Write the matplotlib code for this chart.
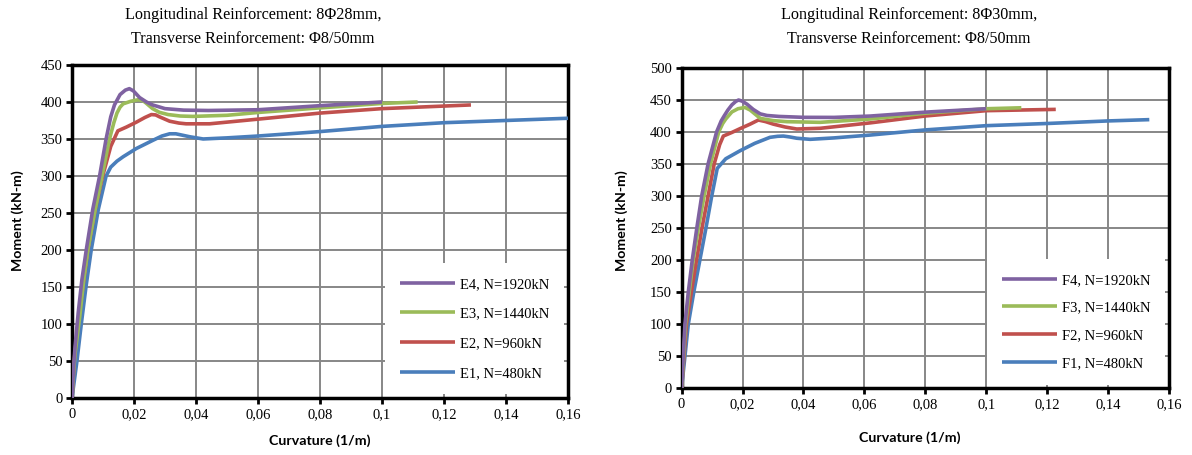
import numpy as np
import matplotlib
matplotlib.use("Agg")
from matplotlib import pyplot as plt
from matplotlib.ticker import FuncFormatter, MultipleLocator

# left chart: 8Φ28mm (E series)
e4_x = [0, 0.0005, 0.001, 0.002, 0.0032, 0.0046, 0.0067, 0.0089, 0.011, 0.0125, 0.0137, 0.0155, 0.0172, 0.0185,
        0.0198, 0.0218, 0.024, 0.026, 0.03, 0.036, 0.044, 0.06, 0.08, 0.1]
e4_y = [0, 40, 70, 115, 160, 200, 255, 300, 350, 380, 396, 410, 416, 418,
        415, 406, 400, 396, 391, 389, 388.5, 389.5, 395, 400]
e3_x = [0, 0.0005, 0.001, 0.0025, 0.0038, 0.0051, 0.0075, 0.0097, 0.0121, 0.0135, 0.0145, 0.0155, 0.0165, 0.019,
        0.0213, 0.0228, 0.0239, 0.026, 0.0282, 0.031, 0.035, 0.039, 0.05, 0.0605, 0.08, 0.1, 0.1115]
e3_y = [0, 35, 60, 110, 160, 200, 255, 300, 350, 372, 385, 393, 397.5, 401,
        403, 402, 398.5, 391, 386, 383, 381, 380.5, 382, 386, 392, 398, 400]
e2_x = [0, 0.0008, 0.0019, 0.0035, 0.0051, 0.0075, 0.0099, 0.0125, 0.0148, 0.0175, 0.0207, 0.0235, 0.0256,
        0.027, 0.0282, 0.0315, 0.0345, 0.0368, 0.0444, 0.0605, 0.08, 0.1, 0.1287]
e2_y = [0, 55, 100, 150, 200, 255, 300, 340, 361, 366, 372.6, 379, 383,
        382.5, 380, 374, 371.5, 370.5, 370.5, 377, 385, 391, 396]
e1_x = [0, 0.0016, 0.003, 0.0045, 0.0062, 0.0085, 0.011, 0.0125, 0.0145, 0.0165, 0.0207, 0.026, 0.029, 0.0315,
        0.0335, 0.038, 0.0423, 0.05, 0.06, 0.08, 0.1, 0.12, 0.14, 0.16]
e1_y = [0, 50, 100, 150, 200, 255, 300, 312, 320, 326, 337, 348, 354, 357,
        357, 353, 350, 351.5, 354, 360, 367, 372, 375, 378]

# right chart: 8Φ30mm (F series)
f4_x = [0, 0.0011, 0.0022, 0.0035, 0.005, 0.0066, 0.0087, 0.0115, 0.013, 0.014, 0.0152, 0.0165, 0.0178, 0.0187,
        0.0198, 0.0215, 0.0235, 0.0258, 0.028, 0.032, 0.04, 0.05, 0.0619, 0.08, 0.1]
f4_y = [0, 100, 150, 200, 250, 300, 350, 400, 417, 425, 434, 442, 447.5, 449.6,
        448, 443, 435, 428, 425.5, 424, 422.6, 422.5, 424.6, 430.7, 436]
f3_x = [0, 0.0013, 0.0025, 0.0038, 0.0055, 0.0074, 0.0095, 0.0122, 0.0135, 0.0145, 0.0165, 0.0185, 0.0208,
        0.0225, 0.0258, 0.03, 0.0346, 0.0455, 0.062, 0.08, 0.1, 0.1115]
f3_y = [0, 100, 150, 200, 250, 300, 350, 400, 413, 420, 431, 436, 438,
        434, 421, 417.5, 415.8, 414.8, 420, 429, 436, 437.5]
f2_x = [0, 0.0016, 0.0032, 0.0049, 0.0067, 0.0087, 0.0107, 0.0125, 0.0137, 0.0165, 0.0192, 0.0225, 0.0252,
        0.0275, 0.0301, 0.034, 0.0378, 0.0455, 0.062, 0.08, 0.1, 0.1228]
f2_y = [0, 100, 150, 200, 250, 300, 350, 380, 393.4, 399, 405, 412, 418.4,
        416, 412, 407.5, 404.4, 405.5, 414, 424.7, 433, 435]
f1_x = [0, 0.0011, 0.0022, 0.004, 0.006, 0.008, 0.0099, 0.0117, 0.0145, 0.0192, 0.024, 0.029, 0.0315, 0.0334,
        0.0355, 0.0378, 0.0422, 0.05, 0.062, 0.08, 0.1, 0.12, 0.14, 0.1535]
f1_y = [0, 50, 100, 150, 200, 250, 300, 343, 358, 370.5, 382, 391.4, 393, 393.4,
        392, 390, 388.3, 390.5, 395, 403, 409.6, 413, 417, 419]

labels_e = ["E4, N=1920kN", "E3, N=1440kN", "E2, N=960kN", "E1, N=480kN"]
labels_f = ["F4, N=1920kN", "F3, N=1440kN", "F2, N=960kN", "F1, N=480kN"]
colors = ["#7F62A1", "#9BBB59", "#C0504D", "#4A7EBB"]  # purple, green, red, blue

serif = "Liberation Serif"
bold_sans = "Lato"

fig = plt.figure(figsize=(11.92, 4.55), dpi=100)
ax1 = fig.add_axes([0.0604, 0.1253, 0.4161, 0.7319])
ax2 = fig.add_axes([0.5718, 0.1466, 0.4090, 0.7046])

comma = FuncFormatter(lambda v, p: ("%g" % round(v, 4)).replace(".", ","))


def dibujar(ax, series, labels, ymax, spacing):
    lines = []
    for (xs, ys), c in zip(series, colors[::-1]):
        l, = ax.plot(xs, ys, color=c, lw=2.6, solid_capstyle="butt",
                     solid_joinstyle="round", zorder=3)
        lines.append(l)
    lines = lines[::-1]
    ax.set_xlim(0, 0.16)
    ax.set_ylim(0, ymax)
    ax.xaxis.set_major_locator(MultipleLocator(0.02))
    ax.yaxis.set_major_locator(MultipleLocator(50))
    ax.xaxis.set_major_formatter(comma)
    ax.grid(True, color="#878787", lw=1.4)
    ax.set_axisbelow(True)
    for s in ax.spines.values():
        s.set_linewidth(2.5)
        s.set_color("black")
    ax.tick_params(direction="out", length=4, width=2, color="black",
                   labelsize=10.5, pad=3)
    for t in ax.get_xticklabels() + ax.get_yticklabels():
        t.set_fontfamily(serif)
    leg = ax.legend(lines, labels, loc="lower right", bbox_to_anchor=(1.0, 0.0),
                    borderaxespad=0.25, frameon=True, fancybox=False,
                    prop={"family": serif, "size": 10.5}, handlelength=3.8,
                    handletextpad=0.35, labelspacing=spacing, borderpad=1.0)
    leg.get_frame().set_edgecolor("none")
    leg.get_frame().set_facecolor("white")
    leg.get_frame().set_alpha(1)
    leg.set_zorder(5)
    return lines


dibujar(ax1, [(e1_x, e1_y), (e2_x, e2_y), (e3_x, e3_y), (e4_x, e4_y)], labels_e, 450, 1.13)
dibujar(ax2, [(f1_x, f1_y), (f2_x, f2_y), (f3_x, f3_y), (f4_x, f4_y)], labels_f, 500, 1.0)

# titles
fig.text(253 / 1192, 1 - 15 / 455, "Longitudinal Reinforcement: 8Φ28mm,", ha="center", va="center",
         family=serif, fontsize=11.6)
fig.text(253 / 1192, 1 - 39 / 455, "Transverse Reinforcement: Φ8/50mm", ha="center", va="center",
         family=serif, fontsize=11.6)
fig.text(909 / 1192, 1 - 15 / 455, "Longitudinal Reinforcement: 8Φ30mm,", ha="center", va="center",
         family=serif, fontsize=11.6)
fig.text(909 / 1192, 1 - 39 / 455, "Transverse Reinforcement: Φ8/50mm", ha="center", va="center",
         family=serif, fontsize=11.6)

# axis labels
fig.text(320 / 1192, 1 - 441 / 455, "Curvature (1/m)", ha="center", va="center",
         family=bold_sans, fontweight="bold", fontsize=10.2)
fig.text(910 / 1192, 1 - 438 / 455, "Curvature (1/m)", ha="center", va="center",
         family=bold_sans, fontweight="bold", fontsize=10.2)
fig.text(18 / 1192, 1 - 221 / 455, "Moment (kN-m)", ha="center", va="center", rotation=90,
         family=bold_sans, fontweight="bold", fontsize=10.2)
fig.text(622 / 1192, 1 - 221 / 455, "Moment (kN-m)", ha="center", va="center", rotation=90,
         family=bold_sans, fontweight="bold", fontsize=10.2)

fig.savefig("out.png", dpi=100)
